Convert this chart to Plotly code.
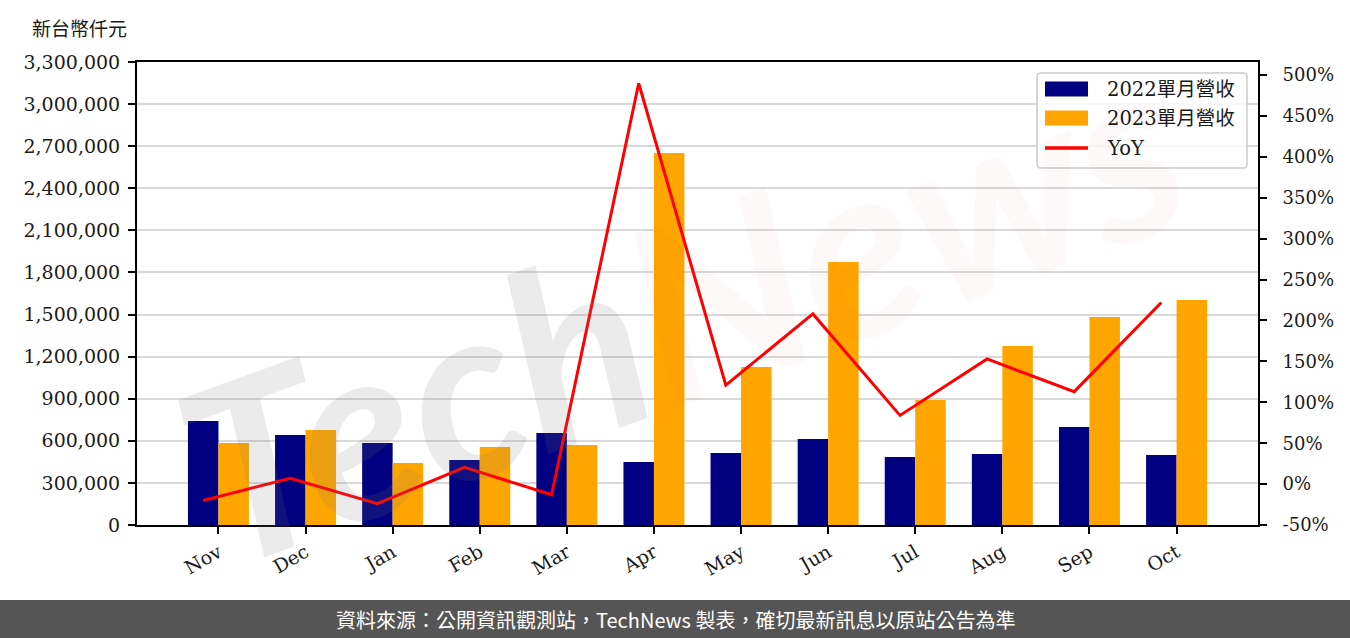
import numpy as np
import plotly.graph_objects as go

months = ["Nov", "Dec", "Jan", "Feb", "Mar", "Apr", "May", "Jun", "Jul", "Aug", "Sep", "Oct"]
rev_2022 = [741000, 641000, 584000, 463000, 656000, 449000, 513000, 613000, 485000, 506000, 698000, 499000]
rev_2023 = [584000, 677000, 442000, 556000, 570000, 2651000, 1126000, 1874000, 891000, 1276000, 1482000, 1603000]
yoy = [-20, 7, -24, 20.5, -13, 490, 121, 208, 84, 153, 113, 222]

left_ticks = list(range(0, 3300001, 300000))
left_ticktext = [f"{v:,}" for v in left_ticks]
right_ticks = list(range(-50, 501, 50))
right_ticktext = [f"{v}%" for v in right_ticks]

idx = np.arange(len(months))
BAR_W = 0.35
COL_22, COL_23, COL_YOY = "#000080", "#FFA500", "#FF0000"

SERIF = "DejaVu Serif, Noto Sans CJK TC"
CJK = "Noto Sans CJK TC, DejaVu Serif"
TXT = "#1a1a1a"

fig = go.Figure()
fig.add_trace(go.Bar(x=idx, y=rev_2022, name="2022單月營收", marker_color=COL_22,
                     marker_line_width=0))
fig.add_trace(go.Bar(x=idx, y=rev_2023, name="2023單月營收", marker_color=COL_23,
                     marker_line_width=0))
fig.add_trace(go.Scatter(x=idx - BAR_W / 2, y=yoy, name="YoY", mode="lines",
                         line=dict(color=COL_YOY, width=3), yaxis="y2"))

L, R, T, B = 137, 92, 62, 113
W, H = 1350, 638
pw, ph = W - L - R, H - T - B

def px_x(p):
    return (p - L) / pw

def px_y(p):
    return (H - B - p) / ph

axis_common = dict(showline=True, linecolor="black", linewidth=2,
                   ticks="outside", ticklen=7, tickwidth=1.5, tickcolor="black",
                   zeroline=False)

fig.update_layout(
    width=W, height=H,
    margin=dict(l=L, r=R, t=T, b=B, autoexpand=False),
    paper_bgcolor="white", plot_bgcolor="white",
    barmode="group", bargap=1 - 2 * BAR_W, bargroupgap=0,
    font=dict(family=SERIF, size=18, color=TXT),
    showlegend=False,
    xaxis=dict(range=[-0.935, 11.935], tickvals=idx, ticktext=months, tickangle=-30,
               mirror=True, showgrid=False, ticklabelstandoff=0,
               tickfont=dict(family=SERIF, size=19, color=TXT), **axis_common),
    yaxis=dict(range=[0, 3300000], tickvals=left_ticks, ticktext=left_ticktext,
               showgrid=True, gridcolor="#d9d9d9", gridwidth=2, ticklabelstandoff=4,
               tickfont=dict(family=SERIF, size=19, color=TXT), **axis_common),
    yaxis2=dict(range=[-50, 516], tickvals=right_ticks, ticktext=right_ticktext,
                overlaying="y", side="right", showgrid=False, ticklabelstandoff=12,
                tickfont=dict(family=SERIF, size=18, color=TXT), **axis_common),
)

# watermark
fig.add_annotation(
    xref="paper", yref="paper", x=px_x(680), y=px_y(305),
    text="<i><b>Tech<span style='color:rgba(225,60,60,0.2)'>News</span></b></i>",
    showarrow=False, textangle=-20,
    font=dict(family="Lato", size=245, color="rgba(120,120,120,0.15)"),
)

# legend (custom box to match wide patches)
bx0, bx1, by0, by1, rr = 1037, 1247, 73, 168, 4
def P(x, y):
    return f"{px_x(x)},{px_y(y)}"
box_path = (f"M {P(bx0 + rr, by0)} L {P(bx1 - rr, by0)} Q {P(bx1, by0)} {P(bx1, by0 + rr)} "
            f"L {P(bx1, by1 - rr)} Q {P(bx1, by1)} {P(bx1 - rr, by1)} "
            f"L {P(bx0 + rr, by1)} Q {P(bx0, by1)} {P(bx0, by1 - rr)} "
            f"L {P(bx0, by0 + rr)} Q {P(bx0, by0)} {P(bx0 + rr, by0)} Z")
fig.add_shape(type="path", xref="paper", yref="paper", path=box_path,
              fillcolor="rgba(255,255,255,0.8)", line=dict(color="#cccccc", width=1.5),
              layer="above")
rows_y = [89, 118, 148]
for tr, ry in zip(fig.data, rows_y):
    if tr.type == "bar":
        fig.add_shape(type="rect", xref="paper", yref="paper",
                      x0=px_x(1045), x1=px_x(1088), y0=px_y(ry + 7.5), y1=px_y(ry - 7.5),
                      fillcolor=tr.marker.color, line_width=0, layer="above")
    else:
        fig.add_shape(type="line", xref="paper", yref="paper",
                      x0=px_x(1045), x1=px_x(1088), y0=px_y(ry), y1=px_y(ry),
                      line=dict(color=tr.line.color, width=3.5), layer="above")
    fig.add_annotation(xref="paper", yref="paper", x=px_x(1105), y=px_y(ry),
                       xanchor="left", yanchor="middle", text=tr.name, showarrow=False,
                       font=dict(family=SERIF, size=19.5, color=TXT))

# axis unit label
fig.add_annotation(
    xref="paper", yref="paper", x=px_x(30), y=px_y(27), xanchor="left", yanchor="middle",
    text="新台幣仟元", showarrow=False,
    font=dict(family=CJK, size=19, color=TXT),
)

# footer bar
fig.add_shape(type="rect", xref="paper", yref="paper",
              x0=px_x(0), x1=px_x(W), y0=px_y(H), y1=px_y(600),
              fillcolor="#555555", line_width=0, layer="above")
fig.add_annotation(
    xref="paper", yref="paper", x=px_x(675), y=px_y(619), xanchor="center", yanchor="middle",
    text="資料來源：公開資訊觀測站，TechNews 製表，確切最新訊息以原站公告為準", showarrow=False,
    font=dict(family="Noto Sans CJK TC", size=20, color="white"),
)

fig.write_html("out.html", config={"displayModeBar": False},
               post_script="document.body.style.margin='0';document.body.style.overflow='hidden';")
